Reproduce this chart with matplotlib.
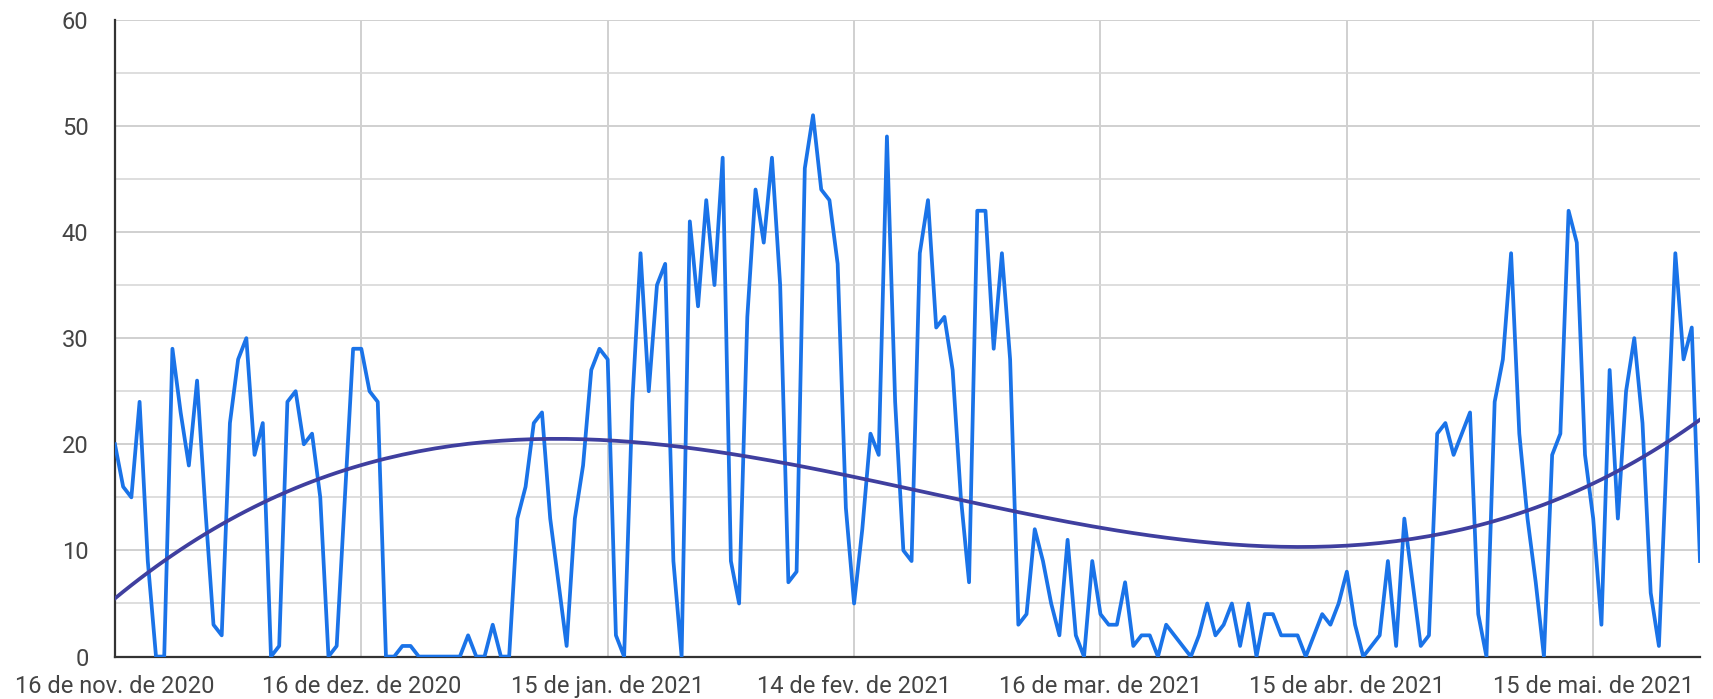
import numpy as np
import pandas as pd
import matplotlib
matplotlib.use("Agg")
import matplotlib.pyplot as plt

# valores diarios (16/11/2020 em diante)
valores = [
    20, 16, 15, 24, 9, 0, 0, 29, 23, 18,
    26, 14, 3, 2, 22, 28, 30, 19, 22, 0,
    1, 24, 25, 20, 21, 15, 0, 1, 15, 29,
    29, 25, 24, 0, 0, 1, 1, 0, 0, 0,
    0, 0, 0, 2, 0, 0, 3, 0, 0, 13,
    16, 22, 23, 13, 7, 1, 13, 18, 27, 29,
    28, 2, 0, 24, 38, 25, 35, 37, 9, 0,
    41, 33, 43, 35, 47, 9, 5, 32, 44, 39,
    47, 35, 7, 8, 46, 51, 44, 43, 37, 14,
    5, 12, 21, 19, 49, 24, 10, 9, 38, 43,
    31, 32, 27, 15, 7, 42, 42, 29, 38, 28,
    3, 4, 12, 9, 5, 2, 11, 2, 0, 9,
    4, 3, 3, 7, 1, 2, 2, 0, 3, 2,
    1, 0, 2, 5, 2, 3, 5, 1, 5, 0,
    4, 4, 2, 2, 2, 0, 2, 4, 3, 5,
    8, 3, 0, 1, 2, 9, 1, 13, 7, 1,
    2, 21, 22, 19, 21, 23, 4, 0, 24, 28,
    38, 21, 13, 7, 0, 19, 21, 42, 39, 19,
    13, 3, 27, 13, 25, 30, 22, 6, 1, 20,
    38, 28, 31, 9,
]
data_inicio = "2020-11-16"
rotulos_x = ["16 de nov. de 2020", "16 de dez. de 2020", "15 de jan. de 2021",
             "14 de fev. de 2021", "16 de mar. de 2021", "15 de abr. de 2021",
             "15 de mai. de 2021"]
datas_x = ["2020-11-16", "2020-12-16", "2021-01-15", "2021-02-14",
           "2021-03-16", "2021-04-15", "2021-05-15"]

datas = pd.date_range(data_inicio, periods=len(valores), freq="D")
dias = np.arange(len(valores))
y = np.array(valores, dtype=float)

# linha de tendencia polinomial (grau 3), como a do Google Sheets
coef = np.polyfit(dias, y, 3)
tendencia = np.polyval(coef, dias)

plt.rcParams['font.family'] = ['Roboto', 'DejaVu Sans']

fig = plt.figure(figsize=(17.13, 6.99), dpi=100)
ax = fig.add_axes([0.0671, 0.0607, 0.9253, 0.9111])

ax.plot(datas, y, color="#1a73e8", linewidth=2.7, zorder=3)
ax.plot(datas, tendencia, color="#3f3f9f", linewidth=2.7, zorder=4)

ax.set_xlim(datas[0], datas[-1])
ax.set_ylim(0, 60)
ax.set_yticks(np.arange(0, 61, 10))
ax.set_yticks(np.arange(5, 60, 10), minor=True)
ax.set_xticks(pd.to_datetime(datas_x))
ax.set_xticklabels(rotulos_x)

ax.grid(True, which="major", color="#d0d0d0", linewidth=1.4)
ax.grid(True, which="minor", axis="y", color="#d8d8d8", linewidth=1.2)
ax.set_axisbelow(True)

for lado in ["top", "right"]:
    ax.spines[lado].set_visible(False)
ax.spines["left"].set_color("#333333")
ax.spines["left"].set_linewidth(1.6)
ax.spines["bottom"].set_color("#333333")
ax.spines["bottom"].set_linewidth(1.6)

ax.tick_params(axis="both", which="both", length=0, labelsize=17, colors="#444444")
ax.tick_params(axis="y", pad=19)
ax.tick_params(axis="x", pad=13)

fig.savefig("out.png", dpi=100)
